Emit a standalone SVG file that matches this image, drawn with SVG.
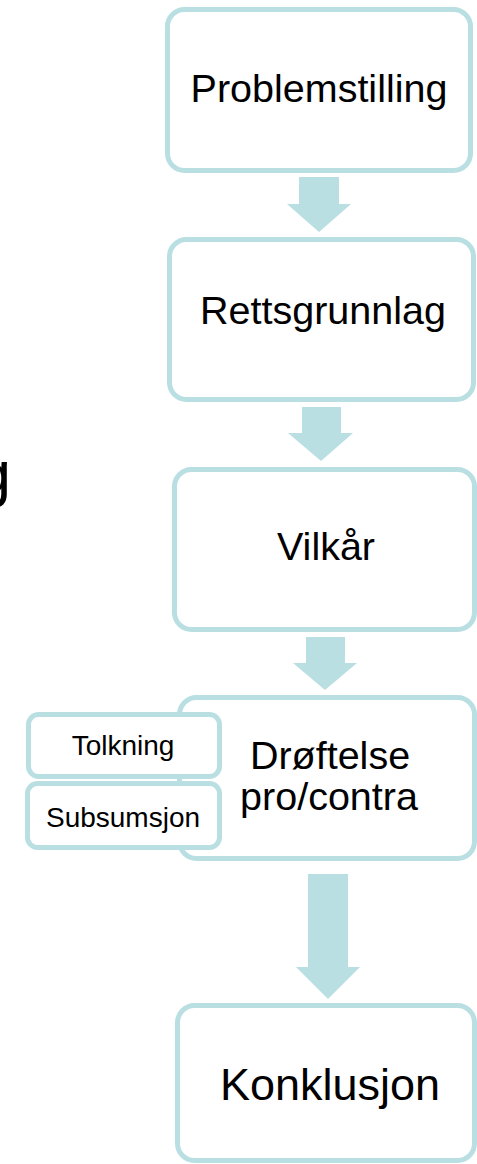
<svg xmlns="http://www.w3.org/2000/svg" width="477" height="1164" viewBox="0 0 477 1164">
<style>
.box{fill:#FFFFFF;stroke:#B9DFE3;stroke-width:5}
.arr{fill:#B9DFE3;stroke:none}
text{font-family:"Liberation Sans",Arial,sans-serif;fill:#000000;text-anchor:middle}
.big{font-size:39.5px}
.small{font-size:28px}
</style>
<rect width="477" height="1164" fill="#FFFFFF"/>
<text x="11" y="495" style="font-size:63px;text-anchor:end">g</text>
<g id="connectors">
<polygon class="arr" points="299,177 339,177 339,204 351,204 319,232 287,204 299,204"/>
<polygon class="arr" points="302,407 341,407 341,433 353,433 321,461 288,433 302,433"/>
<polygon class="arr" points="306,637 345,637 345,663 357,663 325,690 293,663 306,663"/>
<polygon class="arr" points="308,874 348,874 348,967 360,967 328,999 296,967 308,967"/>
</g>
<g id="problemstilling">
<rect class="box" x="167.5" y="9.5" width="303" height="161" rx="17"/>
<text class="big" x="319" y="102">Problemstilling</text>
</g>
<g id="rettsgrunnlag">
<rect class="box" x="169.5" y="239.5" width="304" height="160" rx="17"/>
<text class="big" x="323" y="324">Rettsgrunnlag</text>
</g>
<g id="vilkar">
<rect class="box" x="174.5" y="469.5" width="300" height="160" rx="17"/>
<text class="big" x="326" y="560">Vilkår</text>
</g>
<g id="droftelse">
<rect class="box" x="179.5" y="697.5" width="295" height="161" rx="17"/>
<text class="big" x="330" y="769">Drøftelse</text>
<text class="big" x="329" y="810">pro/contra</text>
</g>
<g id="tolkning">
<rect class="box" x="28.5" y="714.5" width="191" height="62" rx="10"/>
<text class="small" x="123" y="755">Tolkning</text>
</g>
<g id="subsumsjon">
<rect class="box" x="27.5" y="783.5" width="192" height="64" rx="10"/>
<text class="small" x="123" y="827">Subsumsjon</text>
</g>
<g id="konklusjon">
<rect class="box" x="177.5" y="1005.5" width="297" height="155" rx="17"/>
<text x="330" y="1100" style="font-size:45px">Konklusjon</text>
</g>
</svg>
